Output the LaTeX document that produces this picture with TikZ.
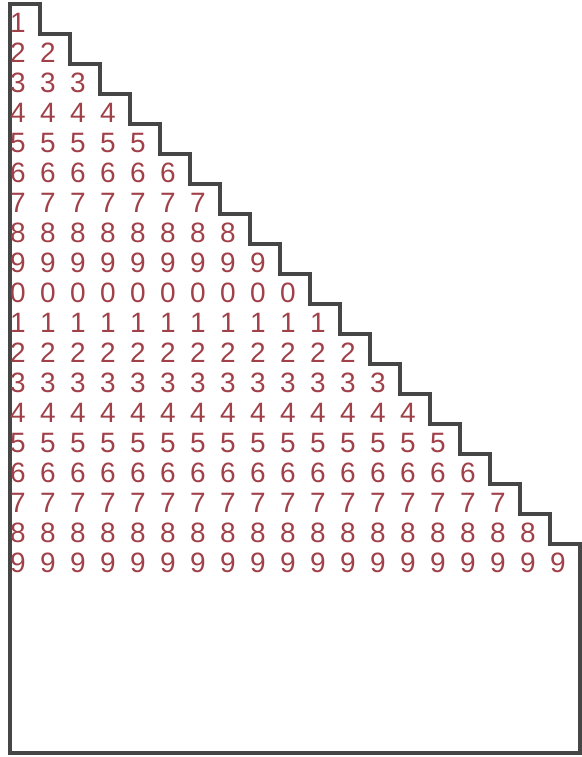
\documentclass[tikz,border=0pt]{standalone}
\usepackage{fontspec}
\setmainfont{Liberation Sans}
\definecolor{digitred}{RGB}{160,64,72}
\definecolor{stairgray}{RGB}{70,70,70}
\begin{document}
\begin{tikzpicture}[x=0.75pt,y=-0.75pt,
  digit/.style={anchor=base west,inner sep=0pt,outer sep=0pt,text=digitred,font=\fontsize{21}{21}\selectfont},
  stair/.style={draw=stairgray,line width=3pt}]
\useasboundingbox (0,0) rectangle (582,757);
\draw[stair] (10,753) -- (10,4)
  \foreach \k in {1,...,18}{ -| ({10+30*\k},{4+30*\k}) }
  -| (580,753) -- cycle;
\foreach \k in {1,...,19}{
  \pgfmathtruncatemacro\dd{mod(\k,10)}
  \foreach \j in {1,...,\k}{
    \node[digit] (d-\k-\j) at ({10+30*(\j-1)},{2+30*\k}) {\dd};
  }
}
\end{tikzpicture}
\end{document}
